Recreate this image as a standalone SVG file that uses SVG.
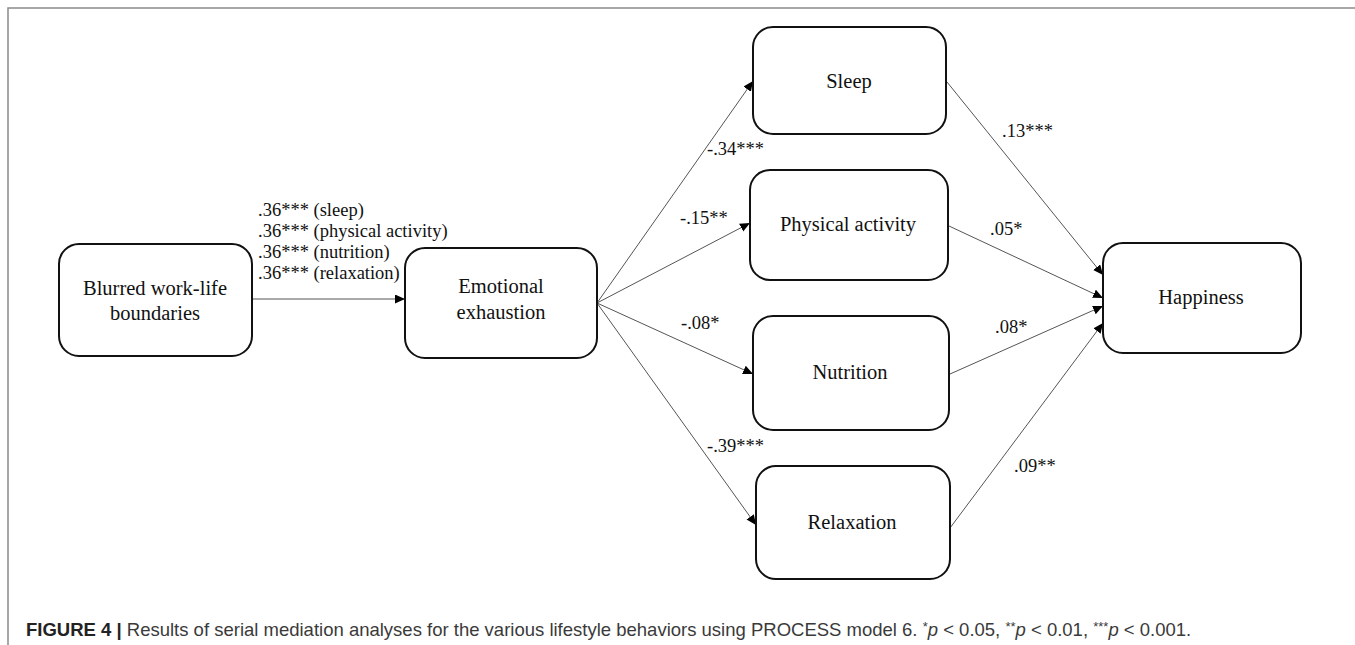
<svg xmlns="http://www.w3.org/2000/svg" width="1355" height="645" viewBox="0 0 1355 645">
<style>
.box{fill:#fff;stroke:#111;stroke-width:2}
.nt{font-family:"Liberation Serif","Times New Roman",serif;font-size:20.5px;fill:#111;text-anchor:middle}
.el{font-family:"Liberation Serif","Times New Roman",serif;font-size:18.5px;fill:#111}
.cn{stroke:#555;stroke-width:1;fill:none;marker-end:url(#ah)}
.cap{font-family:"Liberation Sans",Arial,sans-serif;font-size:18.5px;fill:#3a3a3a}
.frame{stroke:#8a8a8a;stroke-width:1.5;fill:none}
</style>
<defs>
<marker id="ah" markerUnits="userSpaceOnUse" markerWidth="11" markerHeight="10" refX="10" refY="4.5" orient="auto">
<path d="M0,0 L10,4.5 L0,9 z" fill="#000"/>
</marker>
</defs>
<rect width="1355" height="645" fill="#fff"/>
<path class="frame" d="M8,645 L8,8 L1355,8"/>

<g id="connectors">
<line class="cn" x1="252" y1="299" x2="405" y2="299"/>
<line class="cn" x1="597" y1="303" x2="753" y2="81"/>
<line class="cn" x1="597" y1="303" x2="750" y2="223"/>
<line class="cn" x1="597" y1="303" x2="753" y2="374"/>
<line class="cn" x1="597" y1="303" x2="756" y2="525"/>
<line class="cn" x1="947" y1="82" x2="1103" y2="275"/>
<line class="cn" x1="949" y1="226" x2="1103" y2="298"/>
<line class="cn" x1="950" y1="374" x2="1103" y2="306"/>
<line class="cn" x1="950" y1="528" x2="1103" y2="323"/>
</g>

<g id="edge-labels">
<text class="el" x="258" y="215.5">.36*** (sleep)</text>
<text class="el" x="258" y="236.8">.36*** (physical activity)</text>
<text class="el" x="258" y="258.1">.36*** (nutrition)</text>
<text class="el" x="258" y="279.4">.36*** (relaxation)</text>
<text class="el" x="707" y="155">-.34***</text>
<text class="el" x="680" y="224">-.15**</text>
<text class="el" x="681" y="329">-.08*</text>
<text class="el" x="707" y="452">-.39***</text>
<text class="el" x="1002" y="137">.13***</text>
<text class="el" x="990" y="235">.05*</text>
<text class="el" x="995" y="333">.08*</text>
<text class="el" x="1014" y="472">.09**</text>
</g>

<g id="node-blurred">
<rect class="box" x="59" y="244" width="193" height="112" rx="20"/>
<text class="nt" x="155" y="295">Blurred work-life</text>
<text class="nt" x="155" y="320">boundaries</text>
</g>
<g id="node-emotional">
<rect class="box" x="405" y="248" width="192" height="110" rx="20"/>
<text class="nt" x="501" y="293">Emotional</text>
<text class="nt" x="501" y="319">exhaustion</text>
</g>
<g id="node-sleep">
<rect class="box" x="753" y="27" width="193" height="107" rx="20"/>
<text class="nt" x="849" y="88">Sleep</text>
</g>
<g id="node-physical">
<rect class="box" x="750" y="170" width="198" height="110" rx="20"/>
<text class="nt" x="848" y="231">Physical activity</text>
</g>
<g id="node-nutrition">
<rect class="box" x="753" y="316" width="196" height="114" rx="20"/>
<text class="nt" x="850" y="379">Nutrition</text>
</g>
<g id="node-relaxation">
<rect class="box" x="756" y="466" width="194" height="113" rx="20"/>
<text class="nt" x="852" y="529">Relaxation</text>
</g>
<g id="node-happiness">
<rect class="box" x="1103" y="243" width="198" height="110" rx="20"/>
<text class="nt" x="1201" y="304">Happiness</text>
</g>

<text class="cap" x="26" y="636"><tspan font-weight="bold" fill="#222">FIGURE 4 | </tspan>Results of serial mediation analyses for the various lifestyle behaviors using PROCESS model 6. <tspan font-size="13" dy="-5">*</tspan><tspan font-style="italic" dy="5">p</tspan> &lt; 0.05, <tspan font-size="13" dy="-5">**</tspan><tspan font-style="italic" dy="5">p</tspan> &lt; 0.01, <tspan font-size="13" dy="-5">***</tspan><tspan font-style="italic" dy="5">p</tspan> &lt; 0.001.</text>
</svg>
